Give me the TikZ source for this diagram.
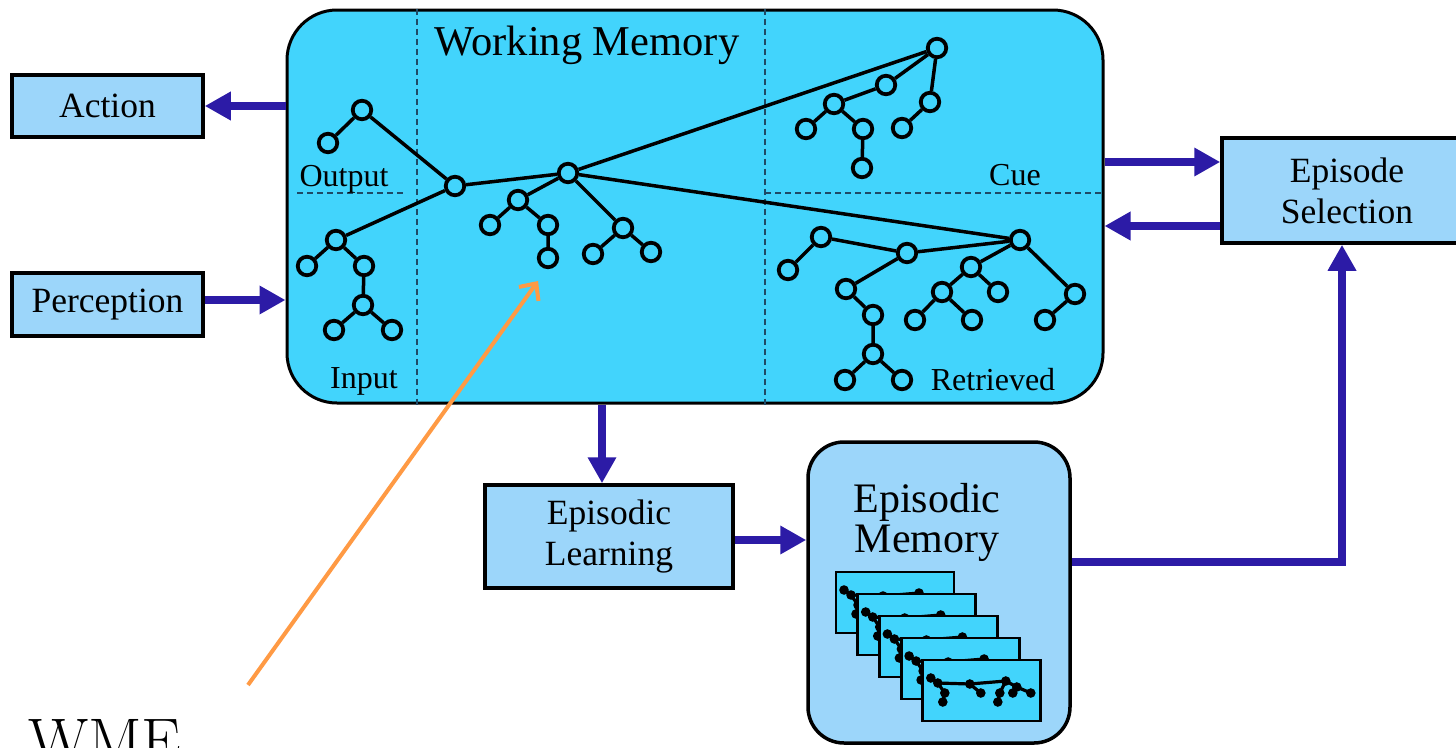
\documentclass[tikz,border=0pt]{standalone}
\usepackage{fontspec}
\newfontfamily\tnr{Liberation Serif}
\usetikzlibrary{arrows.meta}
\definecolor{wmcyan}{HTML}{42D4FC}
\definecolor{boxblue}{HTML}{9CD6FA}
\definecolor{arrblue}{HTML}{2C1BA6}
\definecolor{wmeorange}{HTML}{FF9A44}
\definecolor{dashcol}{HTML}{1E4A66}
\begin{document}
\begin{tikzpicture}[x=1pt,y=-1pt,
  box/.style={draw=black,line width=3.5pt,fill=boxblue,inner sep=0pt,align=center,font=\tnr\fontsize{35.5}{41}\selectfont},
  wn/.style={circle,draw=black,line width=3.8pt,fill=wmcyan,minimum size=18.5pt,inner sep=0pt},
  te/.style={line width=3.5pt},
  arr/.style={draw=arrblue,line width=8pt,-{Triangle[length=26pt,width=27pt]}},
  sepline/.style={draw=dashcol,line width=1.5pt,dash pattern=on 6pt off 4pt},
  reg/.style={font=\tnr\fontsize{32}{36}\selectfont,inner sep=0pt,anchor=base},
  card/.style={draw=black,line width=2.8pt,fill=wmcyan},
  mini/.style={line width=3.2pt},
]
\useasboundingbox (0,0) rectangle (1456,747);
\fill[white] (0,0) rectangle (1456,747);

% main boxes
\node[draw=black,line width=3pt,fill=wmcyan,rounded corners=50pt,minimum width=816pt,minimum height=393pt,inner sep=0pt] (wm) at (695,206.5) {};
\node[box,minimum width=191pt,minimum height=62pt] (act) at (107.5,106) {Action};
\node[box,minimum width=191pt,minimum height=63pt] (perc) at (107.5,304.5) {Perception};
\node[box,minimum width=250pt,minimum height=105pt] (es) at (1347,190.5) {Episode\\Selection};
\node[box,minimum width=248pt,minimum height=103pt] (el) at (609,536.5) {Episodic\\Learning};
\node[draw=black,line width=3.5pt,fill=boxblue,rounded corners=36pt,minimum width=262pt,minimum height=301pt,inner sep=0pt] (em) at (939,592.5) {};
\node[font=\tnr\fontsize{42}{40}\selectfont,align=center,inner sep=0pt,anchor=north] (emlabel) at (927,483) {Episodic\\Memory};

% separators
\draw[sepline] (wm.north -| 417,0) -- (wm.south -| 417,0);
\draw[sepline] (wm.north -| 765,0) -- (wm.south -| 765,0);
\draw[sepline] (297,193) -- (406,193);
\draw[sepline] (765,193) -- (wm.east |- 0,193);

% region labels
\node[font=\tnr\fontsize{42.5}{46}\selectfont,inner sep=0pt,anchor=base] (wmlabel) at (587,55) {Working Memory};
\node[reg] (outl) at (344,186) {Output};
\node[reg] (inl) at (364,388) {Input};
\node[reg] (cuel) at (1015,185) {Cue};
\node[reg] (retl) at (993,390) {Retrieved};

% tree nodes
\node[wn] (o1) at (362,110) {};
\node[wn] (o2) at (328,143) {};
\node[wn] (A) at (455,186) {};
\node[wn] (B) at (568,173) {};
\node[wn] (i1) at (336,240) {};
\node[wn] (i2) at (307,266) {};
\node[wn] (i3) at (364,266) {};
\node[wn] (i4) at (363,305) {};
\node[wn] (i5) at (334,330) {};
\node[wn] (i6) at (392,330) {};
\node[wn] (b1) at (518,200) {};
\node[wn] (b1a) at (490,225) {};
\node[wn] (b1b) at (548,225) {};
\node[wn] (b1b1) at (548,258) {};
\node[wn] (b2) at (623,228) {};
\node[wn] (b2a) at (593,254) {};
\node[wn] (b2b) at (651,252) {};
\node[wn] (C) at (937,48) {};
\node[wn] (c1) at (886,85) {};
\node[wn] (c2) at (834,104) {};
\node[wn] (c2a) at (806,129) {};
\node[wn] (c2b) at (863,129) {};
\node[wn] (c2b1) at (862,168) {};
\node[wn] (c3) at (930,102) {};
\node[wn] (c3a) at (902,128) {};
\node[wn] (R) at (1020,240) {};
\node[wn] (r1) at (907,253) {};
\node[wn] (r2) at (821,237) {};
\node[wn] (r2a) at (788,270) {};
\node[wn] (r3) at (846,289) {};
\node[wn] (r3a) at (873,315) {};
\node[wn] (r3b) at (873,354) {};
\node[wn] (r3ba) at (845,380) {};
\node[wn] (r3bb) at (902,380) {};
\node[wn] (r4) at (971,267) {};
\node[wn] (r4a) at (942,292) {};
\node[wn] (r4a1) at (915,320) {};
\node[wn] (r4a2) at (972,320) {};
\node[wn] (r4b) at (998,292) {};
\node[wn] (r5) at (1075,294) {};
\node[wn] (r5a) at (1045,320) {};

% tree edges
\draw[te] (o1)--(o2) (o1)--(A) (A)--(i1) (A)--(B)
  (i1)--(i2) (i1)--(i3) (i3)--(i4) (i4)--(i5) (i4)--(i6)
  (B)--(b1) (b1)--(b1a) (b1)--(b1b) (b1b)--(b1b1)
  (B)--(b2) (b2)--(b2a) (b2)--(b2b)
  (B)--(C) (B)--(R)
  (C)--(c1) (c1)--(c2) (c2)--(c2a) (c2)--(c2b) (c2b)--(c2b1) (C)--(c3) (c3)--(c3a)
  (R)--(r1) (r1)--(r2) (r2)--(r2a) (r1)--(r3) (r3)--(r3a) (r3a)--(r3b)
  (r3b)--(r3ba) (r3b)--(r3bb)
  (R)--(r4) (r4)--(r4a) (r4a)--(r4a1) (r4a)--(r4a2) (r4)--(r4b)
  (R)--(r5) (r5)--(r5a);

% episode cards
\foreach \i in {0,...,4}{
  \begin{scope}[shift={(836+21.7*\i,572+22*\i)}]
    \draw[card] (0,0) rectangle (118,61);
    \draw[mini] (8,18)--(15,23)--(47,24)--(83,21)--(94,27)
      (15,23)--(22,33)--(20,42) (47,24)--(58,33)
      (83,21)--(77,33)--(75,42) (94,27)--(90,33) (94,27)--(108,33);
    \foreach \p in {(8,18),(15,23),(47,24),(83,21),(94,27),(22,33),(20,42),(58,33),(77,33),(75,42),(90,33),(108,33)}
      \fill \p circle (4.8pt);
  \end{scope}
}

% connectors
\draw[arr] (wm.west |- act) -- (act.east);
\draw[arr] (perc.east |- 0,300) -- (wm.west |- 0,300);
\draw[arr] (wm.east |- 0,162) -- (es.west |- 0,162);
\draw[arr] (es.west |- 0,226) -- (wm.east |- 0,226);
\draw[arr] (wm.south -| 602,0) -- (el.north -| 602,0);
\draw[arr] (el.east |- 0,540) -- (em.west |- 0,540);
\draw[arr] (em.east |- 0,562) -| (es.south -| 1342,0);

% WME annotation
\node[anchor=base west,inner sep=0pt,font=\fontsize{63}{70}\selectfont] (wme) at (28,762) {WME};
\coordinate (wmetail) at (248,685);
\coordinate (wmetip) at (538,281);
\draw[draw=wmeorange,line width=4pt,-{Straight Barb[length=13pt,width=24pt]}] (wmetail) -- (wmetip);
\end{tikzpicture}
\end{document}
